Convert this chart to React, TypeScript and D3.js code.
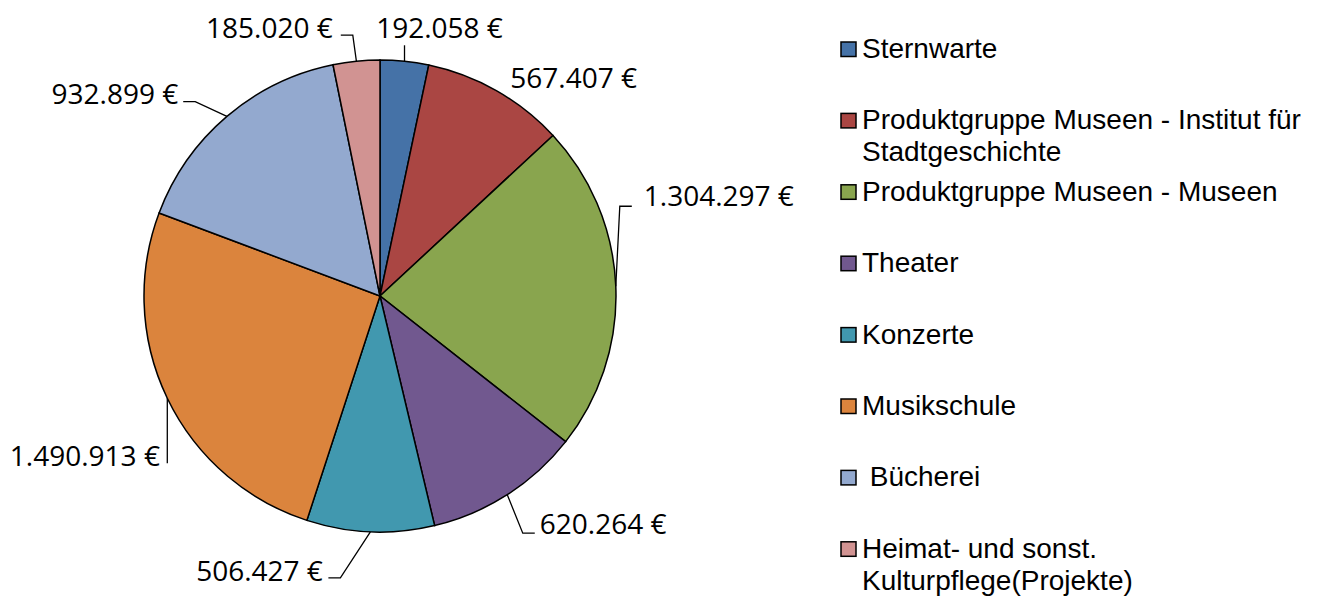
import React from "react";
import * as d3 from "d3";

// Kultur-Ausgaben nach Bereich (Euro)
const categories: string[] = [
  "Sternwarte",
  "Produktgruppe Museen - Institut für Stadtgeschichte",
  "Produktgruppe Museen - Museen",
  "Theater",
  "Konzerte",
  "Musikschule",
  " Bücherei",
  "Heimat- und sonst. Kulturpflege(Projekte)",
];

const values: number[] = [192058, 567407, 1304297, 620264, 506427, 1490913, 932899, 185020];

// legend lines (wrapped like the original)
const legendLines: string[][] = [
  ["Sternwarte"],
  ["Produktgruppe Museen - Institut für", "Stadtgeschichte"],
  ["Produktgruppe Museen - Museen"],
  ["Theater"],
  ["Konzerte"],
  ["Musikschule"],
  [" Bücherei"],
  ["Heimat- und sonst.", "Kulturpflege(Projekte)"],
];

const colors: string[] = [
  "#4572A7",
  "#AA4643",
  "#89A54E",
  "#71588F",
  "#4198AF",
  "#DB843D",
  "#93A9CF",
  "#D19392",
];

// label placement relative to the slice's outer edge point
interface LabelLayout {
  dx: number;
  dy: number;
  anchor: "start" | "end" | "middle";
  elbow?: [number, number];
  tail?: number;
}
const labelLayout: LabelLayout[] = [
  { dx: 35, dy: -34, anchor: "middle", elbow: [0, -16], tail: 0 },
  { dx: 14, dy: -14, anchor: "start" },
  { dx: 28, dy: -91, anchor: "start", elbow: [4, -80], tail: 12 },
  { dx: 32.5, dy: 28, anchor: "start", elbow: [15.5, 38.4], tail: 12 },
  { dx: -47.5, dy: 38, anchor: "end", elbow: [-30, 46], tail: -12 },
  { dx: -7.4, dy: 57, anchor: "end", elbow: [0, 65], tail: 0 },
  { dx: -48.7, dy: -23.5, anchor: "end", elbow: [-31.7, -14.8], tail: -12 },
  { dx: -23.6, dy: -34, anchor: "end", elbow: [-3.6, -26], tail: -12 },
];

const fmt = (v: number) => d3.format(",")(v).replace(/,/g, ".") + " €";

const App: React.FC = () => {
  const width = 1317;
  const height = 597;
  const cx = 380;
  const cy = 296;
  const radius = 236;

  const pie = d3
    .pie<number>()
    .sort(null)
    .value((d) => d);
  const arcs = pie(values);
  const arc = d3.arc<d3.PieArcDatum<number>>().innerRadius(0).outerRadius(radius);

  const legendX = 841;
  const legendY0 = 58;
  const legendStep = 71.4;

  return (
    <svg
      width={width}
      height={height}
      style={{ position: "absolute", left: 0, top: 0, background: "#fff" }}
    >
      <g transform={`translate(${cx},${cy})`}>
        {arcs.map((a, i) => (
          <path key={i} d={arc(a) ?? ""} fill={colors[i]} stroke="#000" strokeWidth={1.5} />
        ))}
      </g>
      {arcs.map((a, i) => {
        const mid = (a.startAngle + a.endAngle) / 2;
        const ex = cx + radius * Math.sin(mid);
        const ey = cy - radius * Math.cos(mid);
        const l = labelLayout[i];
        let line = null;
        if (l.elbow) {
          const bx = ex + l.elbow[0];
          const by = ey + l.elbow[1];
          const pts: [number, number][] = [
            [ex, ey],
            [bx, by],
            [bx + (l.tail ?? 0), by],
          ];
          line = (
            <path d={d3.line()(pts) ?? ""} fill="none" stroke="#000" strokeWidth={1.3} />
          );
        }
        return (
          <g key={i}>
            {line}
            <text
              x={ex + l.dx}
              y={ey + l.dy}
              textAnchor={l.anchor}
              dominantBaseline="central"
              fontFamily="'Open Sans', sans-serif"
              fontSize={28}
              fill="#000"
            >
              {fmt(values[i])}
            </text>
          </g>
        );
      })}
      <g>
        {categories.map((c, i) => {
          const y = legendY0 + i * legendStep;
          return (
            <g key={c}>
              <rect
                x={legendX}
                y={y - 16}
                width={15}
                height={14.5}
                fill={colors[i]}
                stroke="#000"
                strokeWidth={1.5}
              />
              <text
                x={legendX + 21}
                y={y}
                fontFamily="'Liberation Sans', Arial, sans-serif"
                fontSize={28}
                fill="#000"
              >
                {legendLines[i].map((t, j) => (
                  <tspan key={j} x={legendX + 21} dy={j === 0 ? 0 : 32} style={{ whiteSpace: "pre" }}>
                    {t}
                  </tspan>
                ))}
              </text>
            </g>
          );
        })}
      </g>
    </svg>
  );
};

export default App;
